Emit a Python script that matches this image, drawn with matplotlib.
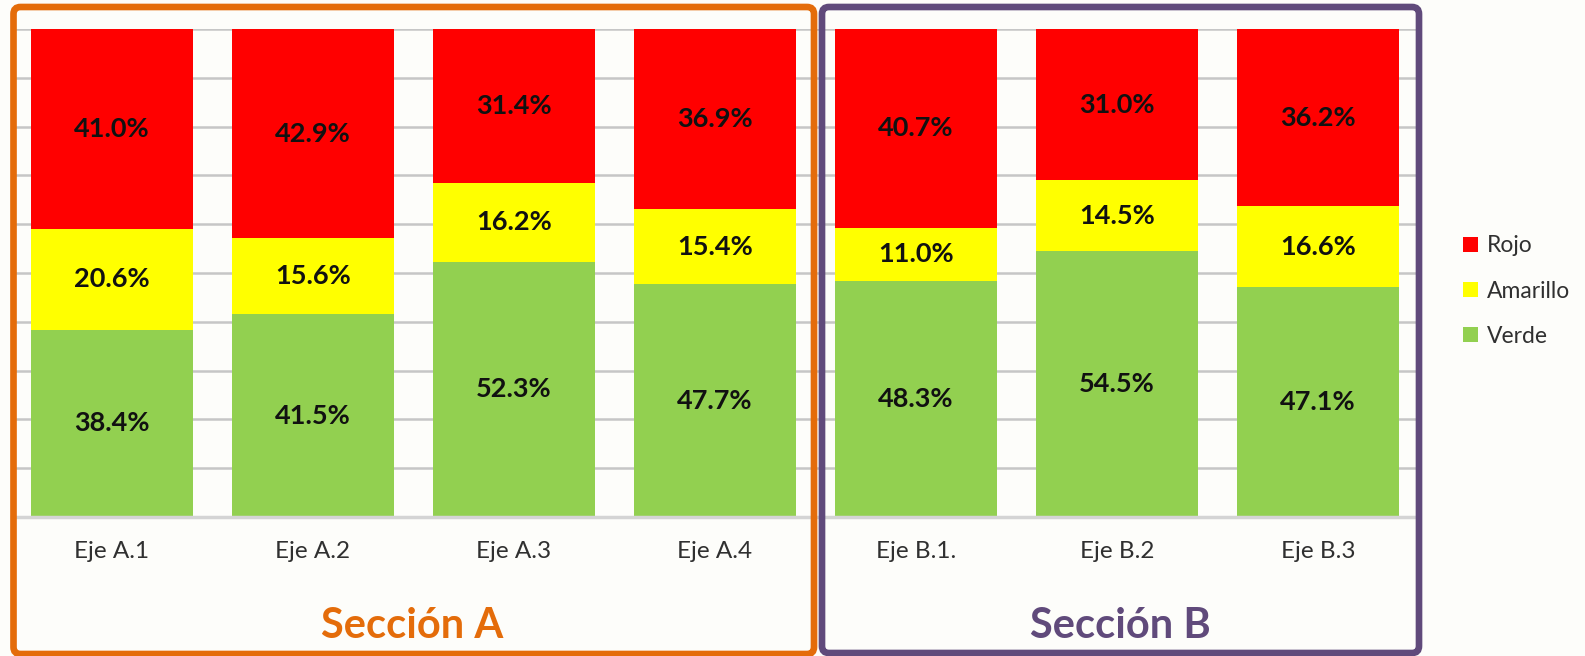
import matplotlib
matplotlib.use("Agg")
import matplotlib.pyplot as plt
from matplotlib.patches import FancyBboxPatch
import numpy as np

categories = ["Eje A.1", "Eje A.2", "Eje A.3", "Eje A.4", "Eje B.1.", "Eje B.2", "Eje B.3"]
verde = [38.4, 41.5, 52.3, 47.7, 48.3, 54.5, 47.1]
amarillo = [20.6, 15.6, 16.2, 15.4, 11.0, 14.5, 16.6]
rojo = [41.0, 42.9, 31.4, 36.9, 40.7, 31.0, 36.2]
series_names = ["Verde", "Amarillo", "Rojo"]
section_titles = ["Sección A", "Sección B"]

colors = {"Verde": "#92D050", "Amarillo": "#FFFF00", "Rojo": "#FF0000"}
bg = "#fdfdfa"

W, H = 1585, 656
fig = plt.figure(figsize=(W / 100, H / 100), dpi=100, facecolor=bg)
ax = fig.add_axes([11.5 / W, 1 - 517 / H, (1418.5 - 11.5) / W, (517 - 29) / H])
ax.set_facecolor(bg)

x = np.arange(len(categories))
bottom = np.zeros(len(categories))
handles = {}
for name, vals in zip(series_names, [verde, amarillo, rojo]):
    vals = np.array(vals)
    b = ax.bar(x, vals, 0.806, bottom=bottom, color=colors[name], zorder=2, label=name)
    handles[name] = b
    for xi, v, bt in zip(x, vals, bottom):
        ax.text(xi, bt + v / 2, f"{v:.1f}%", ha="center", va="center",
                fontsize=19.5, fontweight="bold", family="Lato", color="#111111", zorder=3)
    bottom += vals

ax.set_xlim(-0.5, len(categories) - 0.5)
ax.set_ylim(0, 100)
ax.set_yticks(np.arange(0, 101, 10))
ax.yaxis.grid(True, color="#c6c6c6", linewidth=1.8, zorder=0)
ax.set_axisbelow(True)
ax.tick_params(axis="y", left=False, labelleft=False)
ax.tick_params(axis="x", length=0, pad=17)
ax.set_xticks(x)
ax.set_xticklabels(categories, fontsize=17.5, family="Lato", color="#303030")
for s in ["top", "right", "left"]:
    ax.spines[s].set_visible(False)
ax.spines["bottom"].set_color("#d4d4d4")
ax.spines["bottom"].set_linewidth(2.5)

# legend
leg = ax.legend([handles["Rojo"], handles["Amarillo"], handles["Verde"]],
                ["Rojo", "Amarillo", "Verde"], loc="center left",
                bbox_to_anchor=(1442 / W, 1 - 291 / H), bbox_transform=fig.transFigure,
                frameon=False, handlelength=0.65, handleheight=0.65,
                handletextpad=0.4, labelspacing=1.05, prop={"family": "Lato", "size": 16.5})
for t in leg.get_texts():
    t.set_color("#303030")

# section boxes (pixel coordinates, origin bottom-left)
def box(x0, x1, ytop, ybot, color):
    p = FancyBboxPatch((x0, H - ybot), x1 - x0, ybot - ytop,
                       boxstyle="round,pad=0,rounding_size=7",
                       transform=None, fill=False, edgecolor=color, linewidth=4.8,
                       zorder=10)
    fig.patches.append(p)

box(13.5, 814, 7, 654, "#E46C0A")
box(822, 1419, 7, 653, "#604A7B")

fig.text(412 / W, 1 - 626 / H, section_titles[0], ha="center", va="center",
         fontsize=30, fontweight="bold", family="Lato", color="#E46C0A")
fig.text(1120 / W, 1 - 626 / H, section_titles[1], ha="center", va="center",
         fontsize=30, fontweight="bold", family="Lato", color="#604A7B")

fig.savefig("out.png", dpi=100, facecolor=bg)
